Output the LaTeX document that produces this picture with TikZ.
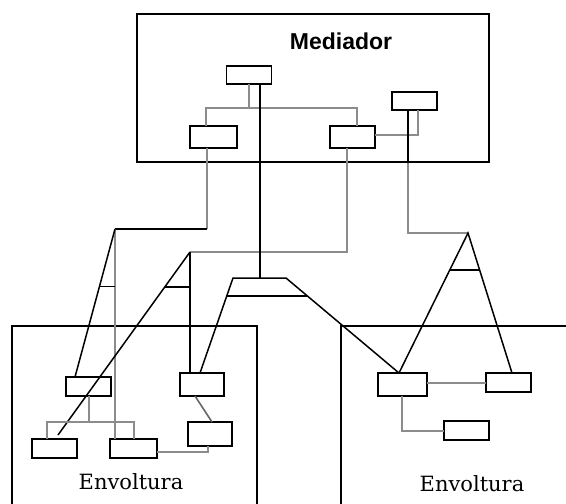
\documentclass[tikz,border=0pt]{standalone}
\usepackage{fontspec}
\setmainfont{DejaVu Serif}
\newfontfamily\titlefont{Liberation Sans}
\usetikzlibrary{calc}

\begin{document}
\begin{tikzpicture}[x=1pt,y=-1pt,
  bx/.style={draw=black, line width=1.8pt, inner sep=0pt, outer sep=0pt},
  frame/.style={draw=black, line width=1.9pt},
  gl/.style={draw=black!45, line width=2pt},
  dl/.style={draw=black, line width=1.5pt},
  title/.style={font=\titlefont\bfseries\fontsize{23}{23}\selectfont},
  label/.style={font=\fontsize{21}{21}\selectfont},
]
\useasboundingbox (0,0) rectangle (566,504);
\clip (0,0) rectangle (566,504);

% containers
\node[frame, minimum width=352pt, minimum height=148pt, inner sep=0pt] (med) at (313,88) {};
\node[title] (medtitle) at (341,41) {Mediador};
\coordinate (envL) at (12,326);
\coordinate (envR) at (341,326);
\draw[frame] (12,510) -- (envL) -- (257,326) -- (257,510);
\draw[frame] (341,510) -- (envR) -- (570,326);
\node[label] (envLtext) at (131,482) {Envoltura};
\node[label] (envRtext) at (472,484) {Envoltura};

% components of the mediator
\node[bx, minimum width=45pt, minimum height=18pt] (mt) at (249,75) {};
\node[bx, minimum width=45pt, minimum height=18pt] (mr) at (414.5,101) {};
\node[bx, minimum width=47pt, minimum height=22pt] (ml) at (213.5,137) {};
\node[bx, minimum width=45pt, minimum height=22pt] (mm) at (352.5,137) {};

% components of the left wrapper
\node[bx, minimum width=45pt, minimum height=19pt] (a1) at (88.5,386.5) {};
\node[bx, minimum width=44pt, minimum height=23pt] (a2) at (202,384.5) {};
\node[bx, minimum width=45pt, minimum height=19pt] (a3) at (54.5,448.5) {};
\node[bx, minimum width=47pt, minimum height=19pt] (a4) at (133.5,448.5) {};
\node[bx, minimum width=44pt, minimum height=24pt] (a5) at (210,434) {};

% components of the right wrapper
\node[bx, minimum width=49pt, minimum height=23pt] (b1) at (402.5,384.5) {};
\node[bx, minimum width=45pt, minimum height=19pt] (b2) at (508.5,382.5) {};
\node[bx, minimum width=45pt, minimum height=19pt] (b3) at (466.5,430.5) {};

% junction points
\coordinate (jbl) at (206,108);
\coordinate (jbr) at (357,108);
\coordinate (tz) at (260,278);
\coordinate (tzl) at (233,278);
\coordinate (tzr) at (286,278);
\coordinate (k1) at (418,135);
\coordinate (jr) at (408,233);
\coordinate (apR) at (468,233);
\coordinate (jl) at (207,229);
\coordinate (apL1) at (115,229);
\coordinate (jm) at (347,252);
\coordinate (apL2) at (190,252);
\coordinate (lbl) at (47,422);
\coordinate (lbr) at (134,422);

% ends on the boxes
\coordinate (a1t) at ($(a1.north west)+(9,0)$);
\coordinate (a2t) at ($(a2.north west)+(20,0)$);
\coordinate (a3t) at ($(a3.north)+(3.5,-4)$);
\coordinate (b1t) at ($(b1.north west)+(21,0)$);
\coordinate (b2t) at ($(b2.north west)+(26,0)$);

% links inside the mediator
\draw[gl] (mt.south) -- (mt.south |- jbl);
\draw[gl] (ml.north -| jbl) |- (jbr) -- (mm.north -| jbr);
\draw[gl] (mm.east |- k1) -| (mr.south -| k1);

% left hierarchy
\draw[gl] (ml.south -| jl) -- (jl);
\draw[dl] (jl) -- (apL1);
\draw[gl] (apL1) -- (a4.north -| apL1);
\draw[dl] (apL1) -- (a1t);
\coordinate (c1) at ($(apL1)!0.39!(a1t)$);
\draw[dl] (c1) -- (c1 -| apL1);

% middle hierarchy
\draw[gl] (mm.south -| jm) |- (apL2);
\draw[dl] (apL2) -- (a2.north -| apL2);
\draw[dl] (apL2) -- (a3t);
\coordinate (c2) at ($(apL2)!0.19!(a3t)$);
\draw[dl] (c2) -- (c2 -| apL2);

% join under the mediator
\draw[dl] (mt.south -| tz) -- (tz);
\draw[dl] (a2t) -- (tzl) -- (tzr) -- (b1t);
\coordinate (c3) at ($(tzl)!0.19!(a2t)$);
\coordinate (c4) at ($(tzr)!0.19!(b1t)$);
\draw[dl] (c3) -- (c4);

% right hierarchy
\draw[dl] (mr.south -| jr) -- (med.south -| jr);
\draw[gl] (med.south -| jr) -- (jr) -- (apR);
\draw[dl] (b1t) -- (apR) -- (b2t);
\coordinate (c5) at ($(apR)!0.264!(b1t)$);
\coordinate (c6) at ($(apR)!0.264!(b2t)$);
\draw[dl] (c5) -- (c6);

% links inside the left wrapper
\draw[gl] (a1.south) -- (a1.south |- lbl);
\draw[gl] (a3.north -| lbl) |- (lbr) -- (a4.north -| lbr);
\draw[draw=black!60, line width=1.6pt] ($(a2.south)+(-7,0)$) -- ($(a5.north)+(2,0)$);
\draw[gl] ($(a4.east)+(0,3.5)$) -| ($(a5.south)+(-2,0)$);

% links inside the right wrapper
\draw[gl] (b1.east |- b2.west) -- (b2.west);
\draw[gl] ($(b1.south)+(-0.5,0)$) |- (b3.west);
\end{tikzpicture}
\end{document}
